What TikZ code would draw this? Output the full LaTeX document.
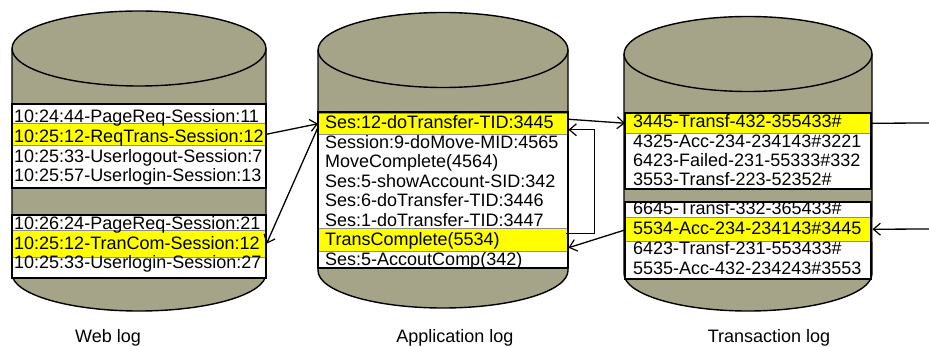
\documentclass[tikz,border=0pt]{standalone}
\usepackage{fontspec}
\setmainfont{Liberation Sans}
\usetikzlibrary{arrows.meta,calc}

\definecolor{drum}{RGB}{166,164,136}
\definecolor{hilite}{RGB}{255,255,0}

\tikzset{
  drumbody/.style={fill=drum},
  drumline/.style={draw=black, line width=1.4pt},
  logbox/.style={fill=white},
  logframe/.style={draw=black, line width=1.3pt},
  hl/.style={draw=black!45, line width=0.5pt, fill=hilite},
  entry/.style={anchor=base west, inner sep=0pt, font=\fontsize{18}{20}\selectfont},
  caption/.style={anchor=base, inner sep=0pt, font=\fontsize{18}{20}\selectfont},
  arr/.style={draw=black, line width=1.3pt, -{Straight Barb[length=7pt,width=12pt,line width=1.2pt]}},
  plain/.style={draw=black, line width=1.3pt}
}

% a drum: left x, right x, y of top ellipse centre, y of bottom ellipse centre
\newcommand{\logdrum}[4]{%
  \pgfmathsetmacro{\drumrx}{(#2-#1)/2}
  \pgfmathsetmacro{\drumcx}{(#2+#1)/2}
  \fill[drumbody] (#1,#3) -- (#1,#4)
    arc[start angle=180, end angle=360, x radius=\drumrx pt, y radius=37.5pt]
    -- (#2,#3) -- cycle;
  \draw[drumline] (#1,#3) -- (#1,#4)
    arc[start angle=180, end angle=360, x radius=\drumrx pt, y radius=37.5pt]
    -- (#2,#3);
  \draw[drumline, fill=drum] (\drumcx,#3) ellipse [x radius=\drumrx pt, y radius=37.5pt];
}

\begin{document}
\begin{tikzpicture}[x=1pt, y=-1pt]
\useasboundingbox (0,0) rectangle (929,347);

% drums
\logdrum{12}{266}{48.5}{273.5}
\logdrum{318}{568}{50}{270.5}
\logdrum{624}{872}{54}{273.5}

% white record panels
\fill[logbox] (12,104) rectangle (266,188);
\fill[logbox] (12,215) rectangle (266,278);
\fill[logbox] (318,112) rectangle (568,268);
\fill[logbox] (625,113) rectangle (871,189);
\fill[logbox] (625,202) rectangle (871,279);

% highlighted records
\node[hl, anchor=north west, inner sep=0pt, minimum width=254pt, minimum height=22pt] (w2) at (12,123) {};
\node[hl, anchor=north west, inner sep=0pt, minimum width=254pt, minimum height=27pt] (w6) at (12,230) {};
\node[hl, anchor=north west, inner sep=0pt, minimum width=250pt, minimum height=21pt] (a1) at (318,113) {};
\node[hl, anchor=north west, inner sep=0pt, minimum width=250pt, minimum height=23pt] (a7) at (318,228) {};
\node[hl, anchor=north west, inner sep=0pt, minimum width=246pt, minimum height=20pt] (t1) at (625,113) {};
\node[hl, anchor=north west, inner sep=0pt, minimum width=248pt, minimum height=24pt] (t6) at (624,217) {};

% panel frames
\draw[logframe] (12,104) rectangle (266,188);
\draw[logframe] (12,215) rectangle (266,278);
\draw[logframe] (318,112) rectangle (568,268);
\draw[logframe] (625,113) rectangle (871,189);
\draw[logframe] (625,202) rectangle (871,279);

% web log entries
\node[entry] (wl1) at (14,123) {10:24:44-PageReq-Session:11};
\node[entry] (wl2) at (14,143) {10:25:12-ReqTrans-Session:12};
\node[entry] (wl3) at (14,163) {10:25:33-Userlogout-Session:7};
\node[entry] (wl4) at (14,182) {10:25:57-Userlogin-Session:13};
\node[entry] (wl5) at (14,230) {10:26:24-PageReq-Session:21};
\node[entry] (wl6) at (14,250) {10:25:12-TranCom-Session:12};
\node[entry] (wl7) at (14,269) {10:25:33-Userlogin-Session:27};

% application log entries
\node[entry] (al1) at (325,129)   {Ses:12-doTransfer-TID:3445};
\node[entry] (al2) at (325,148.5) {Session:9-doMove-MID:4565};
\node[entry] (al3) at (325,168)   {MoveComplete(4564)};
\node[entry] (al4) at (325,187.5) {Ses:5-showAccount-SID:342};
\node[entry] (al5) at (325,207)   {Ses:6-doTransfer-TID:3446};
\node[entry] (al6) at (325,226.5) {Ses:1-doTransfer-TID:3447};
\node[entry] (al7) at (325,246)   {TransComplete(5534)};
\node[entry] (al8) at (325,265.5) {Ses:5-AccoutComp(342)};

% transaction log entries
\node[entry] (tl1) at (633,128) {3445-Transf-432-355433\#};
\node[entry] (tl2) at (633,148) {4325-Acc-234-234143\#3221};
\node[entry] (tl3) at (633,167) {6423-Failed-231-55333\#332};
\node[entry] (tl4) at (633,186) {3553-Transf-223-52352\#};
\node[entry] (tl5) at (633,215) {6645-Transf-332-365433\#};
\node[entry] (tl6) at (633,235) {5534-Acc-234-234143\#3445};
\node[entry] (tl7) at (633,255) {6423-Transf-231-553433\#};
\node[entry] (tl8) at (633,275) {5535-Acc-432-234243\#3553};

% captions
\node[caption] (cweb) at (108,342) {Web log};
\node[caption] (capp) at (455,342) {Application log};
\node[caption] (ctrn) at (769,342) {Transaction log};

% off-page ends of the transaction links
\coordinate (outT) at (929,123);
\coordinate (inT)  at (929,229);

% links between the logs
\draw[arr] (w2.east) -- (a1.west);
\draw[arr] ($(a1.west)+(0,3.5)$) -- (w6.east);
\draw[arr] ($(a1.east)+(0,-4.5)$) -- (t1.west);
\draw[arr] ($(a7.east)+(-3,-6.5)$) -- ++(29,0) |- ($(a1.east)+(0,6)$);
\draw[arr] ($(t6.west)+(0,1)$) -- ($(a7.east)+(0,8)$);
\draw[plain] (t1.east) -- (outT);
\draw[arr] (inT) -- (t6.east);
\end{tikzpicture}
\end{document}
